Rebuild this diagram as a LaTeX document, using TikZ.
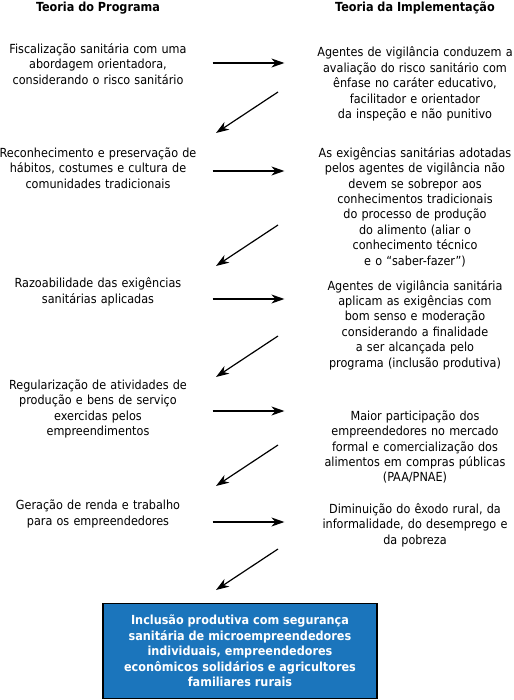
\documentclass[tikz,border=0pt]{standalone}
\usepackage{fontspec}
\setmainfont{DejaVu Sans Condensed}
\usetikzlibrary{arrows.meta,positioning}
\definecolor{goalblue}{RGB}{27,117,188}

\begin{document}
\begin{tikzpicture}[x=1pt,y=-1pt,>={Stealth[length=13pt,width=9pt,inset=4pt]},line width=1.2pt,
    every node/.style={inner sep=0pt,font=\fontsize{12.5}{15.4}\selectfont},
    prog/.style={text width=228pt,align=center},
    impl/.style={text width=260pt,align=center},
    head/.style={font=\fontsize{12.5}{15.4}\selectfont\bfseries},
    goal/.style={draw,fill=goalblue,text=white,align=center,minimum width=274pt,minimum height=95pt,
        font=\fontsize{12.5}{15.4}\selectfont\bfseries}]

            \useasboundingbox (0,0) rectangle (513,700);

            \node[head] (headP) at (98,8) {Teoria do Programa};

            \node[head] (headI) at (415,8) {Teoria da Implementação};

            \node[prog] (p1) at (98,64) {Fiscalização sanitária com uma\\ abordagem orientadora,\\ considerando o risco sanitário};

            \node[impl] (i1) at (415,84) {Agentes de vigilância conduzem a\\ avaliação do risco sanitário com\\ ênfase no caráter educativo,\\ facilitador e orientador\\ da inspeção e não punitivo};

            \node[prog] (p2) at (98,168) {Reconhecimento e preservação de\\ hábitos, costumes e cultura de\\ comunidades tradicionais};

            \node[impl] (i2) at (415,207) {As exigências sanitárias adotadas\\ pelos agentes de vigilância não\\ devem se sobrepor aos\\ conhecimentos tradicionais\\ do processo de produção\\ do alimento (aliar o\\ conhecimento técnico\\ e o “saber-fazer”)};

            \node[prog] (p3) at (98,292) {Razoabilidade das exigências\\ sanitárias aplicadas};

            \node[impl] (i3) at (415,325) {Agentes de vigilância sanitária\\ aplicam as exigências com\\ bom senso e moderação\\ considerando a finalidade\\ a ser alcançada pelo\\ programa (inclusão produtiva)};

            \node[prog] (p4) at (98,409) {Regularização de atividades de\\ produção e bens de serviço\\ exercidas pelos\\ empreendimentos};

            \node[impl] (i4) at (415,447) {Maior participação dos\\ empreendedores no mercado\\ formal e comercialização dos\\ alimentos em compras públicas\\ (PAA/PNAE)};

            \node[prog] (p5) at (98,514) {Geração de renda e trabalho\\ para os empreendedores};

            \node[impl] (i5) at (415,525) {Diminuição do êxodo rural, da\\ informalidade, do desemprego e\\ da pobreza};

            \node[goal] (final) at (240,651) {Inclusão produtiva com segurança\\ sanitária de microempreendedores\\ individuais, empreendedores\\ econômicos solidários e agricultores\\ familiares rurais};

            % ends of the slanted arrows
            \coordinate (d1a) at (278,92);   \coordinate (d1b) at (216,133);
            \coordinate (d2a) at (278,225);  \coordinate (d2b) at (216,266);
            \coordinate (d3a) at (278,336);  \coordinate (d3b) at (216,377);
            \coordinate (d4a) at (278,445);  \coordinate (d4b) at (216,486);
            \coordinate (d5a) at (278,549);  \coordinate (d5b) at (216,590);

            \path[->] ([yshift=1pt]p1.east) edge ([yshift=1pt]p1.east -| i1.west)
                      ([yshift=-3pt]p2.east) edge ([yshift=-3pt]p2.east -| i2.west)
                      ([yshift=-7pt]p3.east) edge ([yshift=-7pt]p3.east -| i3.west)
                      ([yshift=-2pt]p4.east) edge ([yshift=-2pt]p4.east -| i4.west)
                      ([yshift=-8pt]p5.east) edge ([yshift=-8pt]p5.east -| i5.west)
                      (d1a) edge (d1b)
                      (d2a) edge (d2b)
                      (d3a) edge (d3b)
                      (d4a) edge (d4b)
                      (d5a) edge (d5b);

        \end{tikzpicture}
\end{document}
